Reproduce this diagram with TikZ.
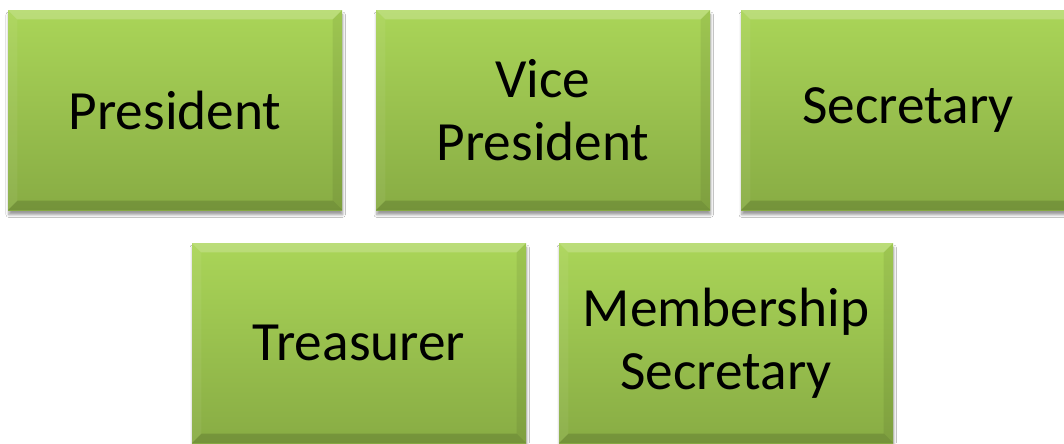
\documentclass[tikz,border=0pt]{standalone}
\usepackage{fontspec}
\setmainfont{Carlito}
\usetikzlibrary{shadows.blur}

\definecolor{boxtop}{RGB}{170,213,88}
\definecolor{boxbot}{RGB}{136,172,68}

\begin{document}
\begin{tikzpicture}[x=0.75pt,y=-0.75pt]
\tikzstyle{every node}=[font=\fontsize{41.5}{47}\selectfont]

\newcommand{\bev}{7pt}

\tikzstyle{officebox}=[rectangle, draw=none, inner sep=0pt, align=center,
    minimum width=250.5pt, minimum height=150pt,
    top color=boxtop, bottom color=boxbot,
    blur shadow={shadow xshift=0.5pt, shadow yshift=-3.5pt, shadow opacity=40,
        shadow blur radius=2pt},
    path picture={
        \fill[white,opacity=.20] (path picture bounding box.north west)
            -- (path picture bounding box.north east) -- ++(-\bev,-\bev)
            -- ++(-236.5pt,0pt) -- cycle;
        \fill[white,opacity=.06] (path picture bounding box.north west)
            -- (path picture bounding box.south west) -- ++(\bev,\bev)
            -- ++(0pt,136pt) -- cycle;
        \fill[black,opacity=.07] (path picture bounding box.north east)
            -- (path picture bounding box.south east) -- ++(-\bev,\bev)
            -- ++(0pt,136pt) -- cycle;
        \fill[black,opacity=.14] (path picture bounding box.south west)
            -- (path picture bounding box.south east) -- ++(-\bev,\bev)
            -- ++(-236.5pt,0pt) -- cycle;
    }]

\useasboundingbox (0,0) rectangle (1064,443);
\fill[white] (0,0) rectangle (1064,443);
\clip (0,0) rectangle (1064,443);

\path (0,110) coordinate (row1);
\path (0,343) coordinate (row2);

% top row
\path (row1) +(175,0) node[officebox] (pres) {President};
\path (row1) +(543,0) node[officebox] (vice) {Vice\\President};
\path (row1) +(908,0) node[officebox] (secr) {Secretary};

% bottom row
\path (row2) +(359,0) node[officebox] (treas) {Treasurer};
\path (row2) +(726,0) node[officebox] (memb) {Membership\\Secretary};
\end{tikzpicture}
\end{document}
